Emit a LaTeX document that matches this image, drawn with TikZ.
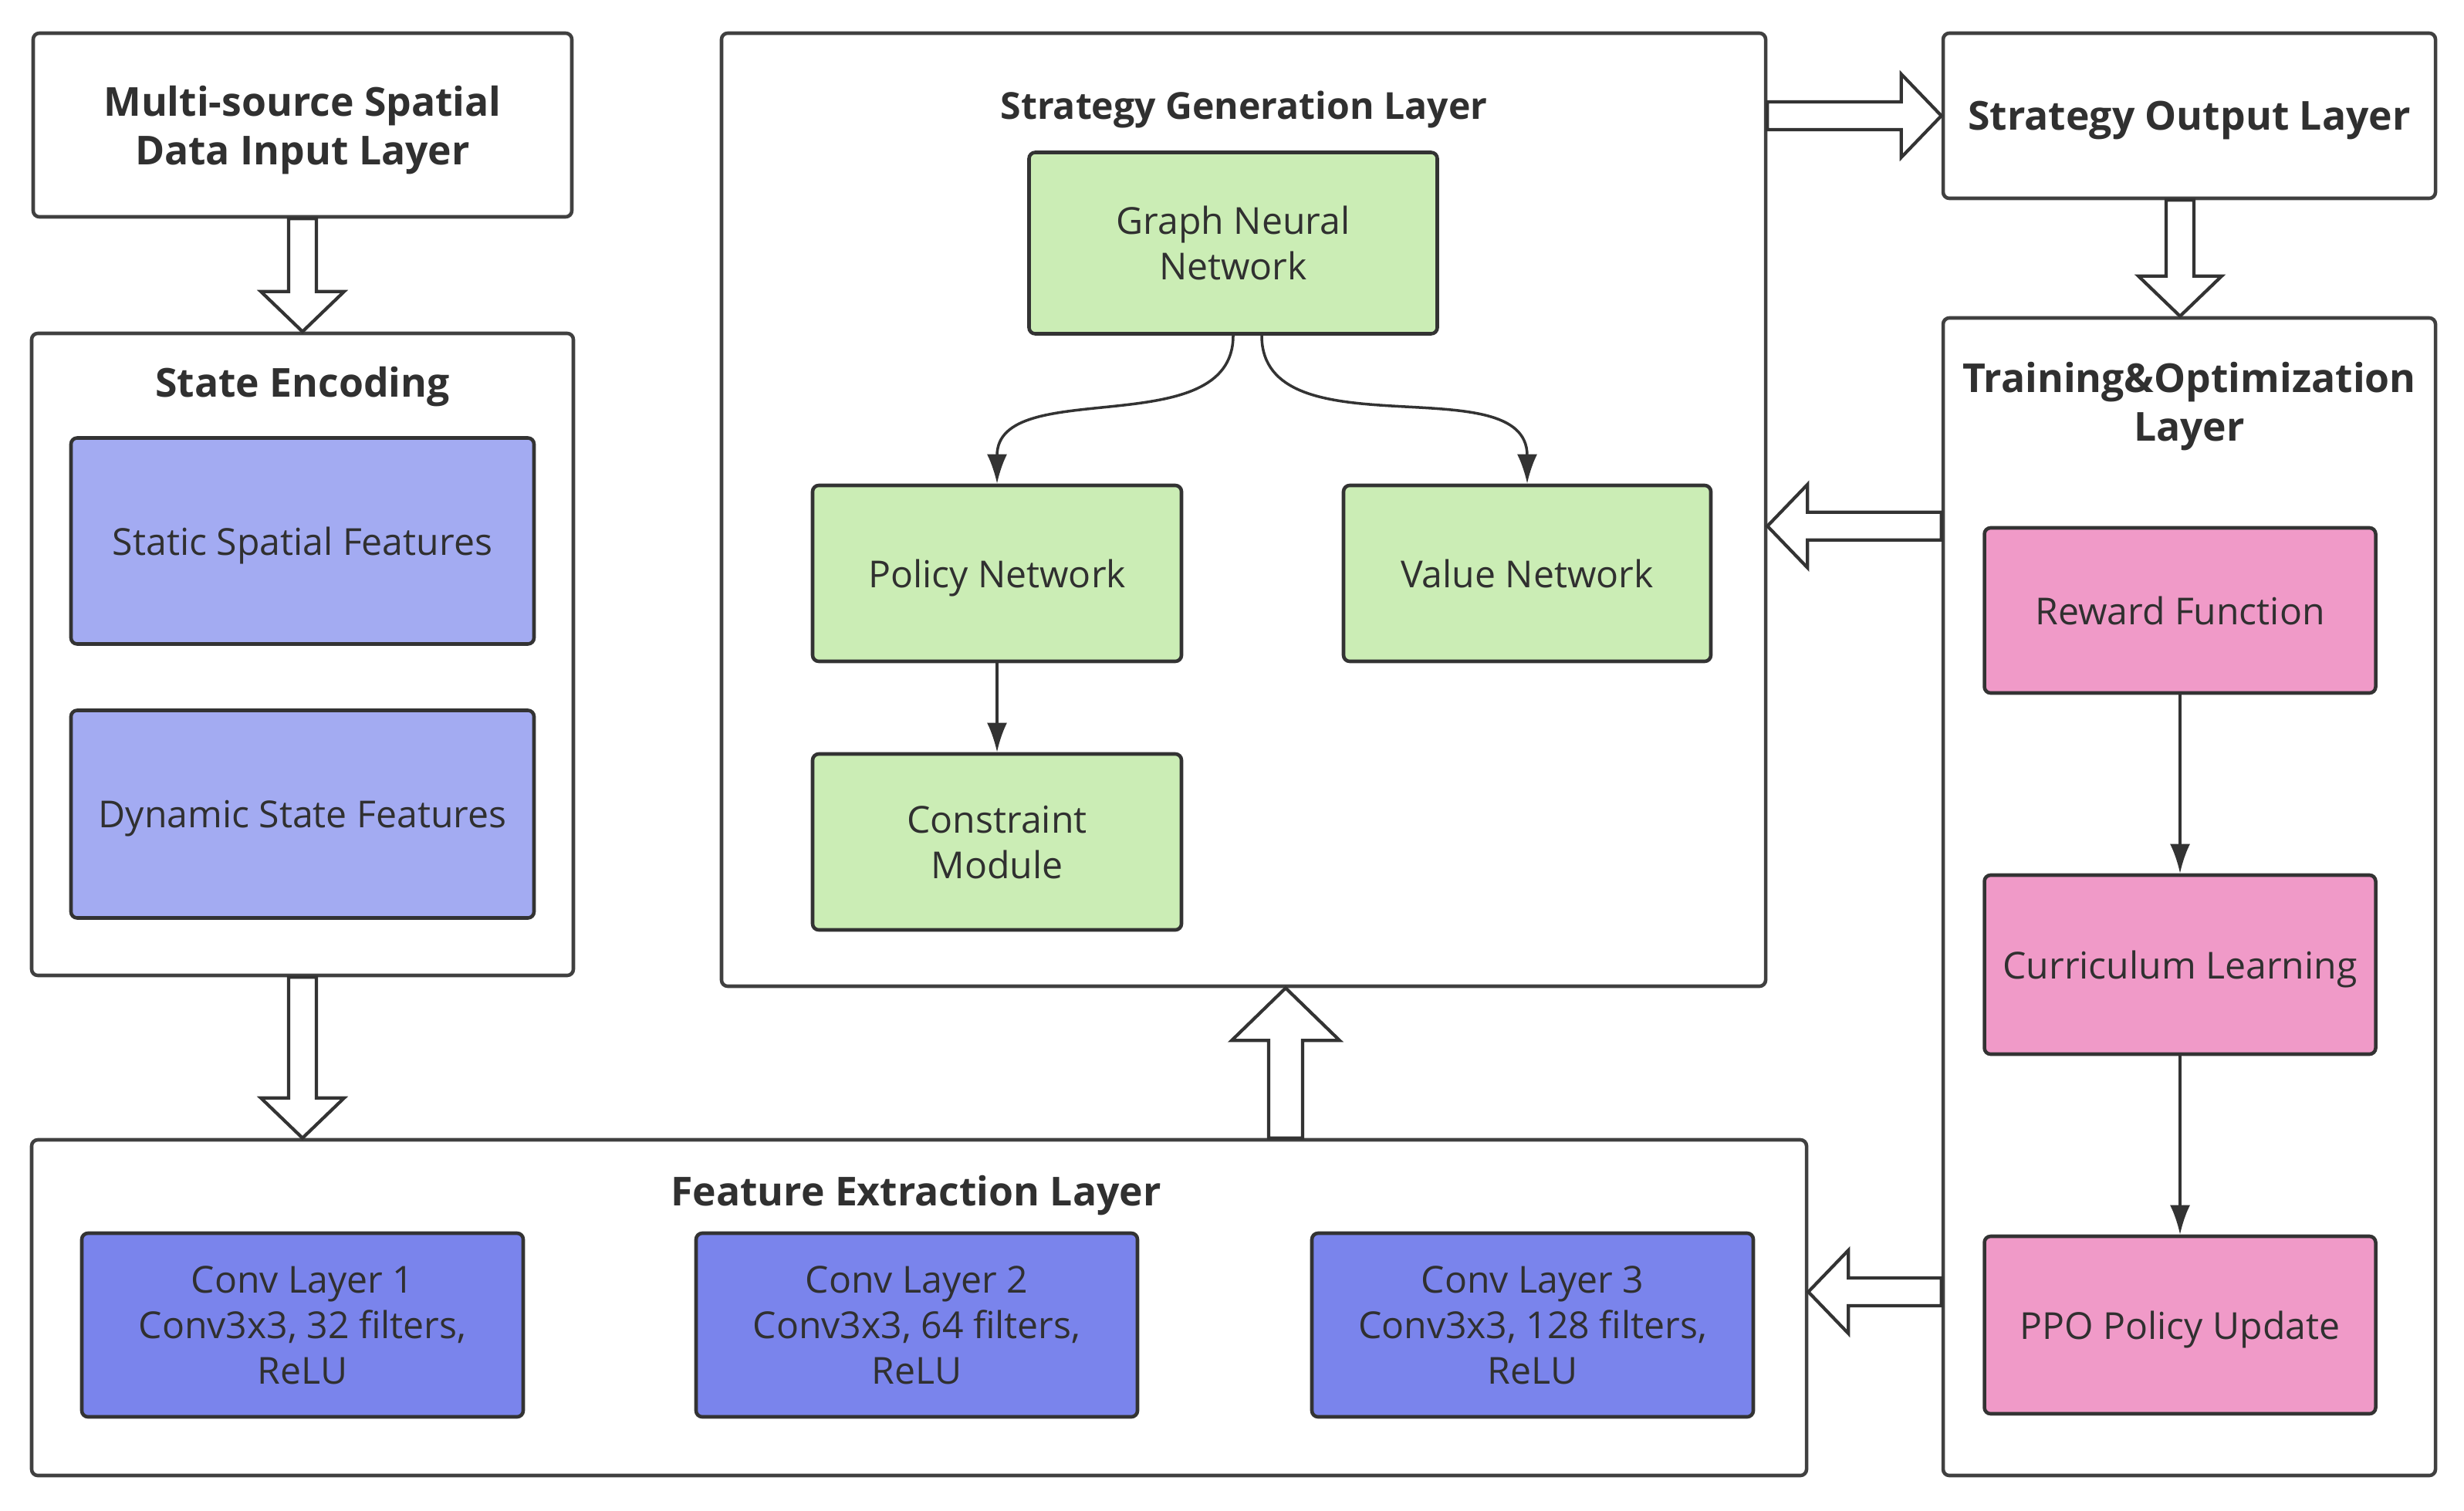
\documentclass[tikz,border=0pt]{standalone}
\usepackage{fontspec}
\setmainfont{Open Sans}
\usetikzlibrary{arrows.meta, positioning, calc}

\definecolor{edge}{HTML}{404040}
\definecolor{txt}{HTML}{303030}
\definecolor{gnnfill}{HTML}{CBEDB5}
\definecolor{encfill}{HTML}{A3ABF2}
\definecolor{convfill}{HTML}{7A84EC}
\definecolor{trainfill}{HTML}{F09AC8}

\begin{document}
\begin{tikzpicture}[
    layer/.style={draw=edge, line width=1.3pt, rounded corners=0.08cm, fill=white, text=txt},
    block/.style={draw=edge!80!black, line width=1.3pt, rounded corners=0.08cm, fill=#1, text=txt,
        align=center, text depth=-0.1cm, font=\fontsize{13.7}{16.8}\selectfont},
    title/.style={text=txt, align=center, text depth=0pt, font=\fontsize{14.7}{17.9}\selectfont\bfseries},
    link/.style={draw=edge!80!black, line width=1pt, -{Latex[length=0.38cm, width=0.26cm]}},
    hollow/.style n args={3}{draw=edge!80!black, fill=white, line width=1.2pt, line join=miter,
        to path={
            ($(\tikztostart)!#1!90:(\tikztotarget)$)
            -- ($($(\tikztotarget)!#3!(\tikztostart)$)!#1!90:(\tikztotarget)$)
            -- ($($(\tikztotarget)!#3!(\tikztostart)$)!#2!90:(\tikztotarget)$)
            -- (\tikztotarget)
            -- ($($(\tikztotarget)!#3!(\tikztostart)$)!#2!-90:(\tikztotarget)$)
            -- ($($(\tikztotarget)!#3!(\tikztostart)$)!#1!-90:(\tikztotarget)$)
            -- ($(\tikztostart)!#1!-90:(\tikztotarget)$) -- cycle}},
    fat/.style={hollow={0.18cm}{0.54cm}{0.52cm}},
    fatter/.style={hollow={0.22cm}{0.70cm}{0.68cm}},
]
\useasboundingbox (0,0) rectangle (31.93,-19.57);

% Input and state encoding
\node[layer, title, minimum width=6.98cm, minimum height=2.38cm] (input) at (3.92,-1.62) {Multi-source Spatial\\Data Input Layer};
\node[layer, minimum width=7.02cm, minimum height=8.32cm] (enc) at (3.92,-8.48) {};
\node[title] at (3.92,-4.95) {State Encoding};
\node[block=encfill, minimum width=6.00cm, minimum height=2.67cm] (stat) at (3.92,-7.01) {Static Spatial Features};
\node[block=encfill, minimum width=6.00cm, minimum height=2.69cm] (dyn) at (3.92,-10.55) {Dynamic State Features};

% Feature extraction
\node[layer, minimum width=23.00cm, minimum height=4.35cm] (fe) at (11.91,-16.945) {};
\node[title] at (11.87,-15.43) {Feature Extraction Layer};
\node[block=convfill, minimum width=5.72cm, minimum height=2.38cm] (conv1) at (3.92,-17.17) {Conv Layer 1\\Conv3x3, 32 filters,\\ReLU};
\node[block=convfill, minimum width=5.72cm, minimum height=2.38cm] (conv2) at (11.88,-17.17) {Conv Layer 2\\Conv3x3, 64 filters,\\ReLU};
\node[block=convfill, minimum width=5.72cm, minimum height=2.38cm] (conv3) at (19.86,-17.17) {Conv Layer 3\\Conv3x3, 128 filters,\\ReLU};

% Strategy generation
\node[layer, minimum width=13.53cm, minimum height=12.35cm] (sg) at (16.115,-6.605) {};
\node[title, font=\fontsize{13.7}{16.8}\selectfont\bfseries] at (16.12,-1.36) {Strategy Generation Layer};
\node[block=gnnfill, minimum width=5.29cm, minimum height=2.35cm] (gnn) at (15.98,-3.15) {Graph Neural\\Network};
\node[block=gnnfill, minimum width=4.78cm, minimum height=2.28cm] (pol) at (12.92,-7.43) {Policy Network};
\node[block=gnnfill, minimum width=4.76cm, minimum height=2.28cm] (val) at (19.79,-7.43) {Value Network};
\node[block=gnnfill, minimum width=4.78cm, minimum height=2.28cm] (con) at (12.92,-10.91) {Constraint\\Module};

% Output and training
\node[layer, title, minimum width=6.38cm, minimum height=2.14cm] (so) at (28.37,-1.50) {Strategy Output Layer};
\node[layer, minimum width=6.38cm, minimum height=15.00cm] (tr) at (28.37,-11.62) {};
\node[title] at (28.37,-5.20) {Training\&Optimization\\Layer};
\node[block=trainfill, minimum width=5.07cm, minimum height=2.14cm] (rew) at (28.25,-7.91) {Reward Function};
\node[block=trainfill, minimum width=5.07cm, minimum height=2.32cm] (cur) at (28.25,-12.50) {Curriculum Learning};
\node[block=trainfill, minimum width=5.07cm, minimum height=2.30cm] (ppo) at (28.25,-17.17) {PPO Policy Update};

% Thin connectors
\draw[link] (gnn.south) to[out=-90, in=90] (pol.north);
\draw[link] ([xshift=0.37cm]gnn.south) to[out=-90, in=90] (val.north);
\draw[link] (pol) -- (con);
\draw[link] (rew) -- (cur);
\draw[link] (cur) -- (ppo);

% Block arrows between layers
\coordinate (upfoot) at ($(fe.north)+(4.75,0)$);
\coordinate (fbk) at ($(ppo.west)+(0,0.43)$);
\draw[fat] (input.south) to (enc.north);
\draw[fat] (enc.south) to (enc.south |- fe.north);
\draw[fatter] (upfoot) to (upfoot |- sg.south);
\draw[fat] (sg.east |- so.west) to (so.west);
\draw[fat] (so.south -| rew.north) to (tr.north -| rew.north);
\draw[fat] (tr.west |- rew.north) to (sg.east |- rew.north);
\draw[fat] (tr.west |- fbk) to (fe.east |- fbk);

\end{tikzpicture}
\end{document}
